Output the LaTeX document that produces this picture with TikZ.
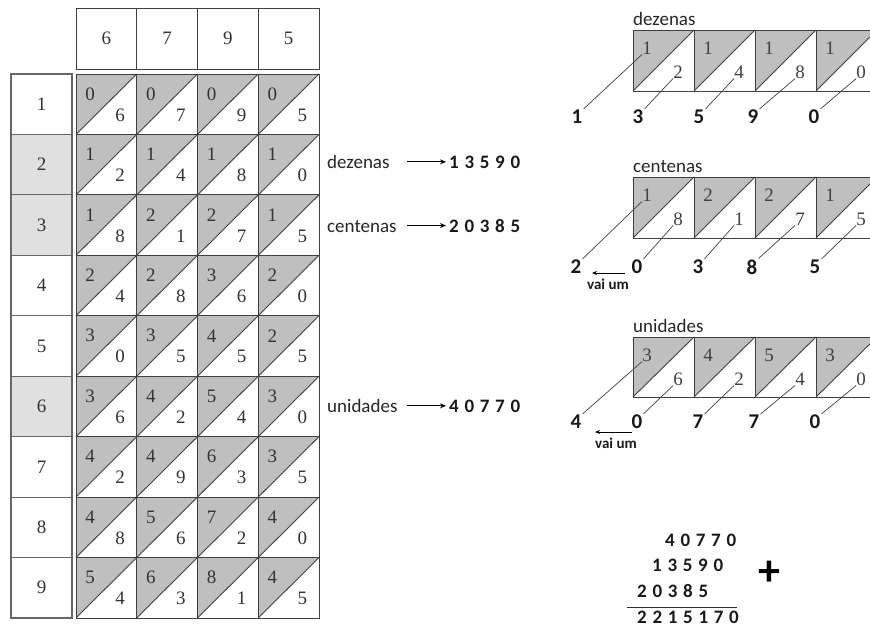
\documentclass[tikz,border=0pt]{standalone}
\usepackage{fontspec}
\setmainfont{Liberation Serif}
\newfontfamily\calib{Carlito}
\newfontfamily\calibnum[LetterSpace=30]{Carlito}
\usetikzlibrary{arrows.meta, positioning, calc}
\tikzstyle{gridline} = [draw=black!75, line width=0.9pt]
\tikzstyle{halftone} = [fill=black!25]
\tikzstyle{digit} = [font=\fontsize{19}{19}\selectfont, text=black!80, inner sep=0pt]
\tikzstyle{boxdigit} = [font=\fontsize{19}{19}\selectfont, text=black!75, inner sep=0pt]
\tikzstyle{headbox} = [rectangle, draw=black!75, line width=0.9pt, minimum width=60.75pt, minimum height=61pt, font=\fontsize{19}{19}\selectfont, text=black!80]
\tikzstyle{rowbox} = [rectangle, draw=black!60, line width=1.1pt, minimum width=61pt, minimum height=60.44pt, font=\fontsize{19}{19}\selectfont, text=black!80]
\tikzstyle{word} = [font=\calib\fontsize{19}{19}\selectfont, text=black!85, inner sep=0pt]
\tikzstyle{number} = [font=\calibnum\bfseries\fontsize{19}{19}\selectfont, text=black!90, inner sep=0pt]
\tikzstyle{result} = [font=\calib\bfseries\fontsize{21}{21}\selectfont, text=black!90, inner sep=1pt]
\tikzstyle{carry} = [font=\calib\bfseries\fontsize{15}{15}\selectfont, text=black!90, inner sep=0pt]
\tikzstyle{lead} = [draw=black!75, line width=0.7pt]
\tikzstyle{arrow} = [line width=1pt,-{Stealth[length=6pt,width=5pt]}]

\begin{document}
\begin{tikzpicture}[x=1pt, y=-1pt]
    \useasboundingbox (0,0) rectangle (870,627);
    \clip (0,0) rectangle (870,627);

    % multiplicand on top, multiplier on the left
    \foreach \dg [count=\col from 0] in {6,7,9,5} {
        \node[headbox] (h\col) at ({106.4+60.75*\col}, 38.5) {\dg};
    }
    \foreach \row/\shade in {1/white,2/black!12,3/black!12,4/white,5/white,6/black!12,7/white,8/white,9/white} {
        \node[rowbox, fill=\shade] (m\row) at (41.5, {74+60.44*(\row-0.5)}) {\row};
    }

    % lattice of products
    \foreach \dg [count=\col from 0] in {6,7,9,5} {
        \foreach \row in {1,...,9} {
            \pgfmathsetmacro\xa{76+60.75*\col}
            \pgfmathsetmacro\ya{74+60.44*(\row-1)}
            \pgfmathtruncatemacro\tn{div(\row*\dg,10)}
            \pgfmathtruncatemacro\un{mod(\row*\dg,10)}
            \fill[halftone] (\xa,\ya) -- ++(60.75,0) -- ++(-60.75,60.44) -- cycle;
            \draw[gridline] (\xa,\ya) rectangle ++(60.75,60.44);
            \draw[gridline] (\xa,\ya+60.44) -- ++(60.75,-60.44);
            \node[digit] (t\col-\row) at (\xa+14,\ya+20) {\tn};
            \node[digit] (u\col-\row) at (\xa+44,\ya+41) {\un};
        }
    }

    % partial results
    \node[word, anchor=base west] (dz) at (327,168) {dezenas};
    \node[number, anchor=base west] (dzn) at (449,168) {13590};
    \node[word, anchor=base west] (ct) at (327,232) {centenas};
    \node[number, anchor=base west] (ctn) at (449,232) {20385};
    \node[word, anchor=base west] (un) at (327,412) {unidades};
    \node[number, anchor=base west] (unn) at (449,412) {40770};
    \foreach \n in {dzn, ctn, unn} {
        \draw[arrow] ([xshift=-42pt]\n.west) -- ([xshift=-3pt]\n.west);
    }

    % dezenas
    \node[word, anchor=base west] (dlab) at (633,25) {dezenas};
    \foreach \tn/\un [count=\col from 0] in {1/2,1/4,1/8,1/0} {
        \pgfmathsetmacro\xa{633+61*\col}
        \fill[halftone] (\xa,30) -- ++(61,0) -- ++(-61,61) -- cycle;
        \draw[gridline] (\xa,30) rectangle ++(61,61);
        \draw[gridline] (\xa,91) -- ++(61,-61);
        \node[boxdigit] (dt\col) at (\xa+14,48) {\tn};
        \node[boxdigit] (du\col) at (\xa+45,72) {\un};
    }
    \foreach \v/\x [count=\k from 0] in {1/577,3/638,5/699,9/753,0/814} {
        \node[result] (dr\k) at (\x,117) {\v};
    }
    \draw[lead] (dr0.north east) -- (dt0.south west);
    \foreach \k/\j in {1/0,2/1,3/2,4/3} {
        \draw[lead] (dr\k.north east) -- (du\j.south west);
    }

    % centenas
    \node[word, anchor=base west] (clab) at (633,172) {centenas};
    \foreach \tn/\un [count=\col from 0] in {1/8,2/1,2/7,1/5} {
        \pgfmathsetmacro\xa{633+61*\col}
        \fill[halftone] (\xa,177) -- ++(61,0) -- ++(-61,61) -- cycle;
        \draw[gridline] (\xa,177) rectangle ++(61,61);
        \draw[gridline] (\xa,238) -- ++(61,-61);
        \node[boxdigit] (ct\col) at (\xa+14,195) {\tn};
        \node[boxdigit] (cu\col) at (\xa+45,219) {\un};
    }
    \foreach \v/\x [count=\k from 0] in {2/576,0/637,3/698,8/752,5/815} {
        \node[result] (cr\k) at (\x,267) {\v};
    }
    \draw[lead] (cr0.north east) -- (ct0.south west);
    \foreach \k/\j in {1/0,2/1,3/2,4/3} {
        \draw[lead] (cr\k.north east) -- (cu\j.south west);
    }
    \coordinate (ca) at (625,273);
    \coordinate (cb) at (592,273);
    \draw[line width=0.8pt,-{Stealth[length=5pt,width=4pt]}] (ca) -- (cb);
    \node[carry, anchor=north] (cvai) at (608,279) {vai um};

    % unidades
    \node[word, anchor=base west] (ulab) at (633,332) {unidades};
    \foreach \tn/\un [count=\col from 0] in {3/6,4/2,5/4,3/0} {
        \pgfmathsetmacro\xa{633+61*\col}
        \fill[halftone] (\xa,337) -- ++(61,0) -- ++(-61,60) -- cycle;
        \draw[gridline] (\xa,337) rectangle ++(61,60);
        \draw[gridline] (\xa,397) -- ++(61,-60);
        \node[boxdigit] (ut\col) at (\xa+14,355) {\tn};
        \node[boxdigit] (uu\col) at (\xa+45,379) {\un};
    }
    \foreach \v/\x [count=\k from 0] in {4/576,0/637,7/698,7/754,0/815} {
        \node[result] (ur\k) at (\x,422) {\v};
    }
    \draw[lead] (ur0.north east) -- (ut0.south west);
    \foreach \k/\j in {1/0,2/1,3/2,4/3} {
        \draw[lead] (ur\k.north east) -- (uu\j.south west);
    }
    \coordinate (ua) at (632,432);
    \coordinate (ub) at (595,432);
    \draw[line width=0.8pt,-{Stealth[length=5pt,width=4pt]}] (ua) -- (ub);
    \node[carry, anchor=north] (uvai) at (616,438) {vai um};

    % final sum
    \node[number, anchor=base west] (s1) at (665,546) {40770};
    \node[number, anchor=base west] (s2) at (652,571) {13590};
    \node[number, anchor=base west] (s3) at (637,597) {20385};
    \node[number, anchor=base west] (tot) at (637,623) {2215170};
    \coordinate (rulea) at (627,607);
    \coordinate (ruleb) at (737,607);
    \draw[line width=1pt, black!80] (rulea) -- (ruleb);
    \node[font=\calib\bfseries\fontsize{44}{44}\selectfont, inner sep=0pt] (plus) at (769,573) {+};
\end{tikzpicture}
\end{document}
